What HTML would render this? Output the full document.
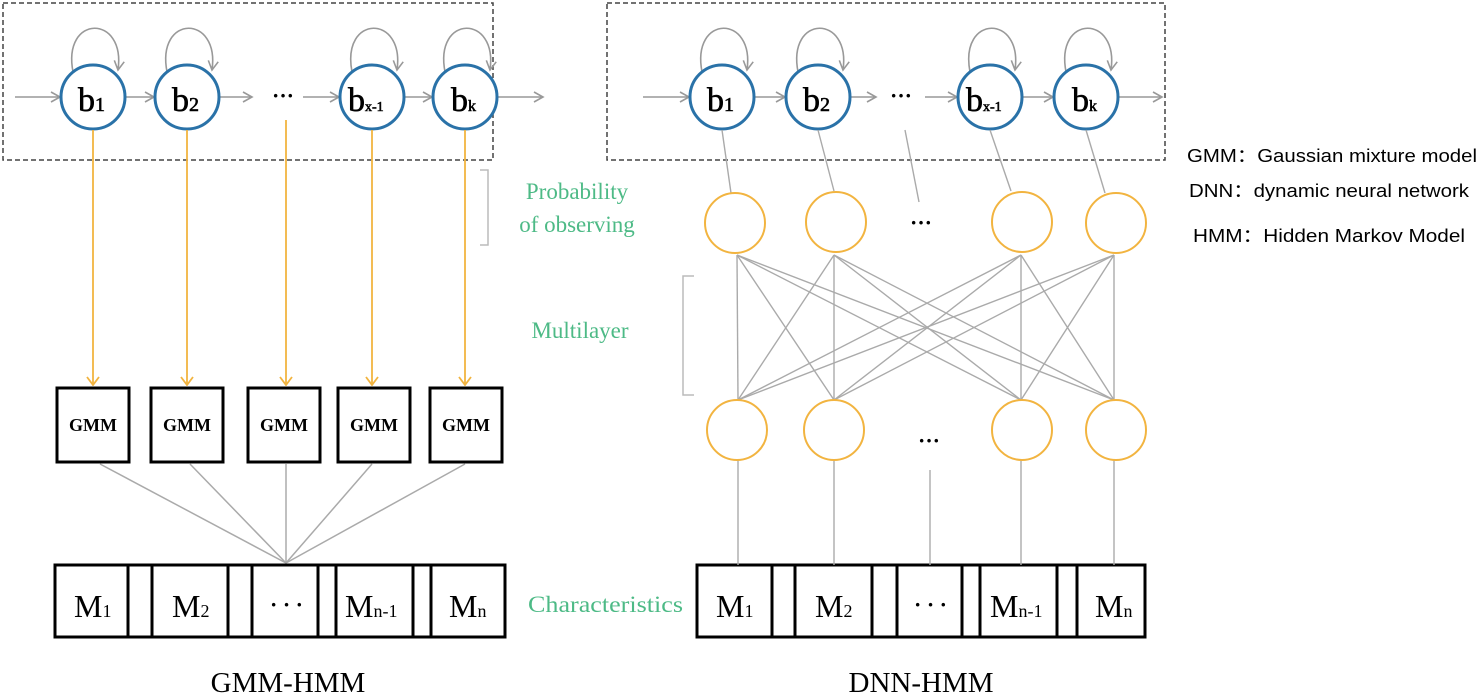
<!DOCTYPE html>
<html><head><meta charset="utf-8"><style>
body{margin:0;background:#fff}
svg{display:block}
.s{font-family:"Liberation Serif",serif}
.a{font-family:"Liberation Sans",sans-serif}
</style></head><body>
<svg width="1479" height="698" viewBox="0 0 1479 698">
<defs>
<marker id="ga" markerWidth="12" markerHeight="12" refX="10" refY="6" orient="auto" markerUnits="userSpaceOnUse"><path d="M1,1 L10,6 L1,11" fill="none" stroke="#999" stroke-width="1.6"/></marker>
<marker id="oa" markerWidth="14" markerHeight="12" refX="7" refY="11" orient="0" markerUnits="userSpaceOnUse"><path d="M1,3 L7,11 L13,3" fill="none" stroke="#f2b440" stroke-width="1.8"/></marker>
</defs>
<g fill="none" stroke="#444" stroke-width="1.5" stroke-dasharray="5,3">
<rect x="3" y="3" width="490" height="157"/>
<rect x="607" y="3" width="558" height="157"/>
</g>
<g stroke="#999" stroke-width="1.6" fill="none" marker-end="url(#ga)">
<line x1="15" y1="97" x2="60" y2="97"/>
<line x1="126" y1="97" x2="154" y2="97"/>
<line x1="220" y1="97" x2="252" y2="97"/>
<line x1="303" y1="97" x2="339" y2="97"/>
<line x1="405" y1="97" x2="432" y2="97"/>
<line x1="498" y1="97" x2="543" y2="97"/>
<line x1="643" y1="97" x2="689" y2="97"/>
<line x1="755" y1="97" x2="785" y2="97"/>
<line x1="851" y1="97" x2="876" y2="97"/>
<line x1="925" y1="97" x2="957" y2="97"/>
<line x1="1023" y1="97" x2="1053" y2="97"/>
<line x1="1119" y1="97" x2="1162" y2="97"/>
<path d="M73,72 C62,14 126,14 118,70"/>
<path d="M167,72 C156,14 220,14 212,70"/>
<path d="M352,72 C341,14 405,14 397,70"/>
<path d="M445,72 C434,14 498,14 490,70"/>
<path d="M702,72 C691,14 755,14 747,70"/>
<path d="M798,72 C787,14 851,14 843,70"/>
<path d="M970,72 C959,14 1023,14 1015,70"/>
<path d="M1066,72 C1055,14 1119,14 1111,70"/>
</g>
<g fill="#fff" stroke="#2a72a8" stroke-width="3">
<circle cx="93" cy="97" r="32"/><circle cx="187" cy="97" r="32"/><circle cx="372" cy="97" r="32"/><circle cx="465" cy="97" r="32"/>
<circle cx="722" cy="97" r="32"/><circle cx="818" cy="97" r="32"/><circle cx="990" cy="97" r="32"/><circle cx="1086" cy="97" r="32"/>
</g>
<g class="s" font-size="34" fill="#000" stroke="#000" stroke-width="0.6">
<text x="78" y="111">b<tspan font-size="20">1</tspan></text>
<text x="172" y="111">b<tspan font-size="20">2</tspan></text>
<text x="348" y="111">b<tspan font-size="14">x-1</tspan></text>
<text x="451" y="111">b<tspan font-size="16">k</tspan></text>
<text x="707" y="111">b<tspan font-size="20">1</tspan></text>
<text x="803" y="111">b<tspan font-size="20">2</tspan></text>
<text x="966" y="111">b<tspan font-size="14">x-1</tspan></text>
<text x="1072" y="111">b<tspan font-size="16">k</tspan></text>
</g>
<g class="s" font-size="22" font-weight="bold">
<text x="272" y="103">···</text>
<text x="890" y="103">···</text>
<text x="910" y="230">···</text>
<text x="918" y="448">···</text>
</g>
<g stroke="#f2b440" stroke-width="1.8" marker-end="url(#oa)">
<line x1="93" y1="130" x2="93" y2="385"/>
<line x1="187" y1="130" x2="187" y2="385"/>
<line x1="286" y1="120" x2="286" y2="385"/>
<line x1="372" y1="130" x2="372" y2="385"/>
<line x1="465" y1="130" x2="465" y2="385"/>
</g>
<g fill="#fff" stroke="#000" stroke-width="3">
<rect x="57" y="388" width="72" height="74"/>
<rect x="151" y="388" width="72" height="74"/>
<rect x="248" y="388" width="72" height="74"/>
<rect x="338" y="388" width="72" height="74"/>
<rect x="430" y="388" width="72" height="74"/>
</g>
<g class="s" font-size="18" font-weight="bold" text-anchor="middle">
<text x="93" y="431">GMM</text><text x="187" y="431">GMM</text><text x="284" y="431">GMM</text><text x="374" y="431">GMM</text><text x="466" y="431">GMM</text>
</g>
<g stroke="#aaa" stroke-width="1.5">
<line x1="100" y1="464" x2="286" y2="563"/>
<line x1="190" y1="464" x2="286" y2="563"/>
<line x1="286" y1="464" x2="286" y2="563"/>
<line x1="372" y1="464" x2="286" y2="563"/>
<line x1="465" y1="464" x2="286" y2="563"/>
</g>
<g fill="none" stroke="#000" stroke-width="3">
<rect x="55" y="565" width="450" height="72"/>
<line x1="128" y1="565" x2="128" y2="637"/><line x1="152" y1="565" x2="152" y2="637"/>
<line x1="228" y1="565" x2="228" y2="637"/><line x1="252" y1="565" x2="252" y2="637"/>
<line x1="318" y1="565" x2="318" y2="637"/><line x1="336" y1="565" x2="336" y2="637"/>
<line x1="413" y1="565" x2="413" y2="637"/><line x1="431" y1="565" x2="431" y2="637"/>
<rect x="697" y="565" width="448" height="72"/>
<line x1="772" y1="565" x2="772" y2="637"/><line x1="795" y1="565" x2="795" y2="637"/>
<line x1="872" y1="565" x2="872" y2="637"/><line x1="897" y1="565" x2="897" y2="637"/>
<line x1="962" y1="565" x2="962" y2="637"/><line x1="980" y1="565" x2="980" y2="637"/>
<line x1="1057" y1="565" x2="1057" y2="637"/><line x1="1077" y1="565" x2="1077" y2="637"/>
</g>
<g class="s" font-size="32">
<text x="74" y="617">M<tspan font-size="18">1</tspan></text>
<text x="172" y="617">M<tspan font-size="18">2</tspan></text>
<text x="270" y="612" font-size="22" font-weight="bold">· · ·</text>
<text x="345" y="617">M<tspan font-size="18">n-1</tspan></text>
<text x="449" y="617">M<tspan font-size="18">n</tspan></text>
<text x="716" y="617">M<tspan font-size="18">1</tspan></text>
<text x="815" y="617">M<tspan font-size="18">2</tspan></text>
<text x="914" y="612" font-size="22" font-weight="bold">· · ·</text>
<text x="990" y="617">M<tspan font-size="18">n-1</tspan></text>
<text x="1095" y="617">M<tspan font-size="18">n</tspan></text>
<text x="288" y="692" font-size="29" text-anchor="middle">GMM-HMM</text>
<text x="921" y="692" font-size="29" text-anchor="middle">DNN-HMM</text>
</g>
<g stroke="#aaa" stroke-width="1.4">
<line x1="722" y1="130" x2="731" y2="193"/>
<line x1="818" y1="130" x2="834" y2="191"/>
<line x1="905" y1="130" x2="919" y2="202"/>
<line x1="990" y1="130" x2="1011" y2="191"/>
<line x1="1086" y1="130" x2="1105" y2="193"/>
<line x1="737" y1="255" x2="738" y2="400"/><line x1="737" y1="255" x2="834" y2="400"/><line x1="737" y1="255" x2="1021" y2="400"/><line x1="737" y1="255" x2="1114" y2="400"/>
<line x1="834" y1="255" x2="738" y2="400"/><line x1="834" y1="255" x2="834" y2="400"/><line x1="834" y1="255" x2="1021" y2="400"/><line x1="834" y1="255" x2="1114" y2="400"/>
<line x1="1021" y1="255" x2="738" y2="400"/><line x1="1021" y1="255" x2="834" y2="400"/><line x1="1021" y1="255" x2="1021" y2="400"/><line x1="1021" y1="255" x2="1114" y2="400"/>
<line x1="1114" y1="255" x2="738" y2="400"/><line x1="1114" y1="255" x2="834" y2="400"/><line x1="1114" y1="255" x2="1021" y2="400"/><line x1="1114" y1="255" x2="1114" y2="400"/>
<line x1="738" y1="460" x2="738" y2="565"/>
<line x1="834" y1="460" x2="834" y2="565"/>
<line x1="930" y1="470" x2="930" y2="565"/>
<line x1="1021" y1="460" x2="1021" y2="565"/>
<line x1="1114" y1="460" x2="1114" y2="565"/>
</g>
<g fill="none" stroke="#f2b440" stroke-width="2">
<circle cx="735" cy="223" r="30"/><circle cx="836" cy="222" r="30"/><circle cx="1022" cy="222" r="30"/><circle cx="1116" cy="223" r="30"/>
<circle cx="737" cy="430" r="30"/><circle cx="834" cy="430" r="30"/><circle cx="1022" cy="430" r="30"/><circle cx="1116" cy="430" r="30"/>
</g>
<g fill="none" stroke="#bbb" stroke-width="1.5">
<path d="M480,170 H488 V245 H480"/>
<path d="M694,276 H683 V395 H694"/>
</g>
<g class="s" font-size="23" fill="#4dba86">
<text x="577" y="199" text-anchor="middle">Probability</text>
<text x="577" y="232" text-anchor="middle">of  observing</text>
<text x="580" y="338" text-anchor="middle">Multilayer</text>
<text x="528" y="612" textLength="155" lengthAdjust="spacingAndGlyphs">Characteristics</text>
</g>
<g class="a" font-size="18" fill="#000">
<text x="1187" y="162" textLength="290" lengthAdjust="spacingAndGlyphs">GMM：Gaussian mixture model</text>
<text x="1189" y="197" textLength="280" lengthAdjust="spacingAndGlyphs">DNN：dynamic neural network</text>
<text x="1193" y="242" textLength="272" lengthAdjust="spacingAndGlyphs">HMM：Hidden Markov Model</text>
</g>
</svg>
</body></html>
